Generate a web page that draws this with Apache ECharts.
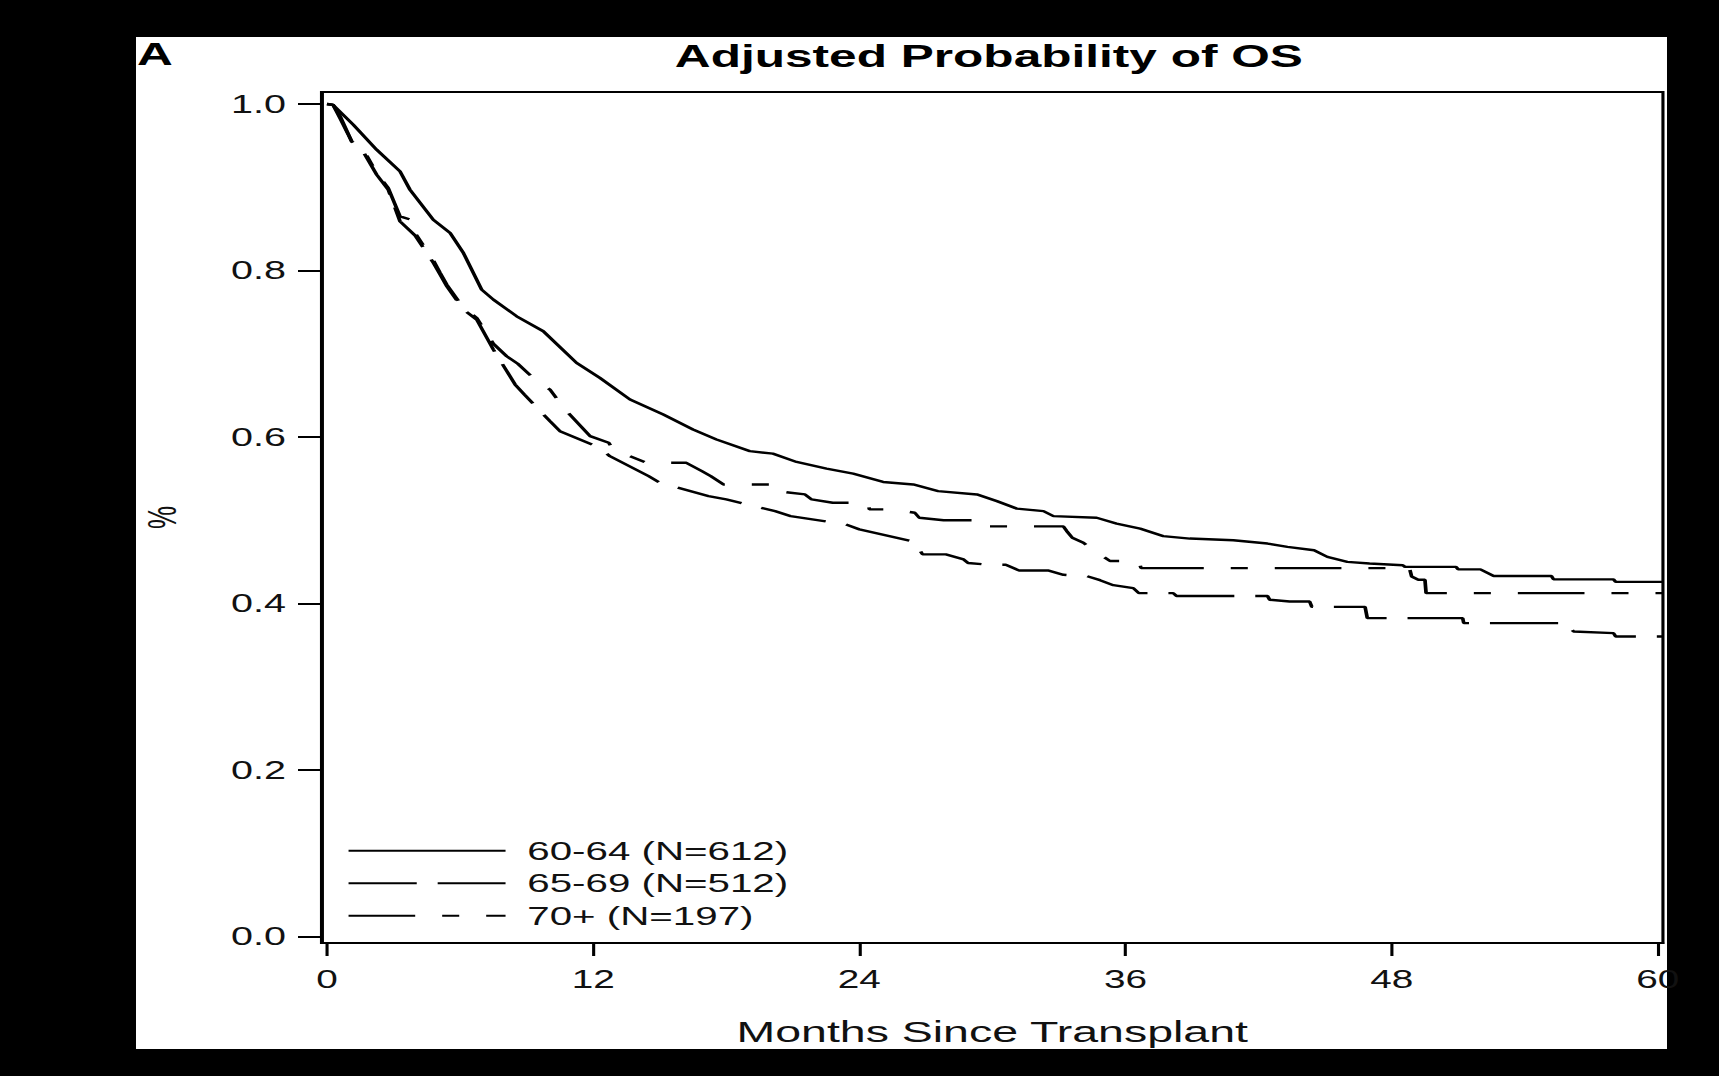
<!DOCTYPE html>
<html>
<head>
<meta charset="utf-8">
<script src="https://cdn.jsdelivr.net/npm/echarts@6/dist/echarts.min.js"></script>
<style>
  html, body { margin: 0; padding: 0; background: #000; overflow: hidden; width: 1719px; height: 1076px; }
  #c { position: absolute; left: 0; top: 0; height: 1076px; transform-origin: 0 0; }
</style>
</head>
<body>
<div id="c"></div>
<script>
// ---------------- data ----------------
const chartTitle = 'Adjusted Probability of OS';
const panelLabel = 'A';
const xAxisName = 'Months Since Transplant';
const yAxisName = '%';
const seriesNames = ['60-64 (N=612)', '65-69 (N=512)', '70+ (N=197)'];
const xTicks = [0, 12, 24, 36, 48, 60];
const yTicks = [0, 0.2, 0.4, 0.6, 0.8, 1.0];

// [months, adjusted survival probability]
const os6064 = [
  [0.0,1.000],[0.27,0.999],[1.19,0.975],[2.24,0.945],[3.29,0.919],[3.74,0.897],[4.79,0.861],
  [5.55,0.845],[6.15,0.821],[6.97,0.777],[7.5,0.765],[8.55,0.745],[9.75,0.727],[11.25,0.689],
  [12.3,0.671],[13.66,0.645],[15.16,0.627],[16.5,0.609],[17.56,0.597],[19.06,0.583],[20.1,0.580],
  [21.17,0.570],[22.52,0.562],[23.72,0.556],[25.07,0.546],[26.43,0.543],[27.55,0.535],[29.3,0.531],
  [30.2,0.523],[31.1,0.514],[32.3,0.511],[32.75,0.505],[34.7,0.503],[35.6,0.496],[36.66,0.490],
  [37.7,0.481],[38.9,0.478],[40.86,0.476],[42.4,0.472],[43.3,0.468],[44.5,0.464],[45.1,0.456],
  [46.0,0.450],[47.0,0.448],[48.5,0.446],[48.6,0.444],[50.9,0.444],[51.0,0.441],[52.0,0.441],
  [52.6,0.433],[55.2,0.433],[55.3,0.429],[58.0,0.429],[58.1,0.426],[60.23,0.426]
];
const os6569 = [
  [0.0,1.000],[0.27,0.999],[0.6,0.982],[1.11,0.955],[1.56,0.946],[2.24,0.915],[2.76,0.897],
  [3.29,0.859],[3.97,0.842],[4.8,0.809],[5.1,0.795],[5.4,0.781],[6.15,0.753],[6.75,0.741],
  [7.5,0.705],[8.48,0.663],[8.9,0.651],[10.05,0.619],[10.5,0.607],[12.3,0.587],[12.75,0.577],
  [14.5,0.553],[15.0,0.545],[17.2,0.529],[18.0,0.525],[20.2,0.511],[20.9,0.505],[23.4,0.495],
  [24.0,0.489],[26.35,0.475],[26.7,0.465],[26.85,0.459],[27.9,0.459],[28.7,0.453],[28.9,0.4487],
  [29.8,0.4465],[30.6,0.4465],[31.2,0.4397],[32.5,0.4397],[33.2,0.4345],[34.25,0.433],[34.85,0.428],
  [35.45,0.422],[36.35,0.4185],[36.6,0.4125],[38.15,0.4125],[38.3,0.409],[42.4,0.409],[42.5,0.4045],
  [43.4,0.4024],[44.3,0.4024],[44.4,0.396],[46.8,0.396],[46.9,0.3824],[51.2,0.3824],[51.25,0.3764],
  [55.9,0.3764],[56.0,0.3724],[56.2,0.3664],[58.0,0.3644],[58.1,0.3604],[60.23,0.3604]
];
const os70 = [
  [0.0,1.000],[0.27,0.999],[0.6,0.985],[1.11,0.955],[1.56,0.949],[2.24,0.917],[2.76,0.899],
  [3.29,0.865],[3.9,0.860],[3.97,0.845],[4.8,0.812],[5.1,0.797],[5.4,0.783],[6.15,0.755],
  [6.75,0.743],[7.5,0.712],[8.1,0.697],[8.6,0.688],[9.45,0.667],[10.05,0.657],[10.73,0.633],
  [11.86,0.601],[12.7,0.593],[12.9,0.585],[13.66,0.577],[14.4,0.569],[16.2,0.569],[16.9,0.559],
  [17.3,0.553],[17.87,0.543],[20.2,0.543],[20.25,0.535],[21.55,0.531],[21.85,0.525],[22.8,0.521],
  [24.4,0.521],[24.45,0.513],[25.5,0.513],[26.5,0.509],[26.7,0.503],[27.8,0.500],[29.6,0.500],
  [29.65,0.4926],[33.2,0.4926],[33.35,0.487],[33.6,0.479],[34.1,0.473],[34.5,0.465],[34.85,0.459],
  [35.3,0.451],[36.6,0.451],[36.7,0.4425],[48.8,0.4425],[48.9,0.4325],[49.2,0.4285],[49.5,0.4285],
  [49.55,0.4125],[60.23,0.4125]
];

// ---------------- layout ----------------
// The reference image is horizontally stretched; the chart is drawn narrower and stretched back.
const SX = 1.55;
const W = 1719 / SX;
const fx = v => v / SX;           // reference-pixel x -> chart x
const FONT = '"Liberation Sans", Arial, Helvetica, sans-serif';

const el = document.getElementById('c');
el.style.width = W + 'px';
el.style.transform = 'scaleX(' + SX + ')';

const mctx = document.createElement('canvas').getContext('2d');
mctx.font = 'bold 32px "Liberation Sans"';
const titleW = mctx.measureText(chartTitle).width;

const chart = echarts.init(el, null, { renderer: 'svg' });

const lineBase = { color: '#000', width: 2.4 };

chart.setOption({
  backgroundColor: '#000',
  animation: false,
  color: ['#000', '#000', '#000'],
  textStyle: { fontFamily: FONT },
  title: {
    text: chartTitle,
    left: fx(989) - titleW / 2,
    top: 40,
    padding: 0,
    textStyle: { fontSize: 32, fontWeight: 'bold', color: '#000', fontFamily: FONT }
  },
  graphic: [
    { type: 'rect', z: -100, silent: true,
      shape: { x: fx(136), y: 37, width: fx(1667 - 136), height: 1049 - 37 },
      style: { fill: '#fff' } },
    { type: 'text', z: 10, silent: true, x: fx(137), y: 54,
      style: { text: panelLabel, font: 'bold 32px ' + FONT, fill: '#000',
               textAlign: 'left', textVerticalAlign: 'middle' } }
  ],
  legend: {
    orient: 'vertical',
    left: fx(347),
    top: 837.7,
    padding: 0,
    itemGap: 6.5,
    itemWidth: fx(504 - 347),
    itemHeight: 14,
    selectedMode: false,
    data: seriesNames,
    itemStyle: { opacity: 0, borderWidth: 0 },
    lineStyle: { opacity: 1 },
    textStyle: { fontSize: 26, color: '#111', fontFamily: FONT, padding: [0, 0, 0, 9] }
  },
  grid: {
    left: fx(321.5),
    right: W - fx(1663),
    top: 92,
    bottom: 1076 - 943,
    show: true,
    borderColor: '#000',
    borderWidth: 2,
    backgroundColor: 'transparent',
    containLabel: false
  },
  xAxis: {
    type: 'value',
    min: -0.25,
    max: 60.23,
    name: xAxisName,
    nameLocation: 'middle',
    nameGap: 73.6,
    nameTextStyle: { fontSize: 30, color: '#111', fontFamily: FONT },
    axisLine: { show: true, onZero: false, lineStyle: { color: '#000', width: 2 } },
    axisTick: { show: true, customValues: xTicks, length: 13, lineStyle: { color: '#000', width: 2 } },
    axisLabel: { show: true, customValues: xTicks, margin: 23.5, fontSize: 25, color: '#111', fontFamily: FONT },
    splitLine: { show: false }
  },
  yAxis: {
    type: 'value',
    min: -0.0078,
    max: 1.0144,
    name: yAxisName,
    nameLocation: 'middle',
    nameGap: 90,
    nameTextStyle: { fontSize: 26, color: '#111', fontFamily: FONT },
    axisLine: { show: true, onZero: false, lineStyle: { color: '#000', width: 2 } },
    axisTick: { show: true, customValues: yTicks, length: fx(23.5), lineStyle: { color: '#000', width: 2 } },
    axisLabel: { show: true, customValues: yTicks, margin: fx(35.5), fontSize: 25.5, color: '#111',
                 fontFamily: FONT, formatter: v => Number(v).toFixed(1) },
    splitLine: { show: false }
  },
  series: [
    { name: seriesNames[0], type: 'line', data: os6064, symbol: 'none', showSymbol: false,
      itemStyle: { color: '#000' },
      lineStyle: Object.assign({}, lineBase, { type: 'solid' }) },
    { name: seriesNames[1], type: 'line', data: os6569, symbol: 'none', showSymbol: false,
      itemStyle: { color: '#000' },
      lineStyle: Object.assign({}, lineBase, { type: [44, 13.5] }) },
    { name: seriesNames[2], type: 'line', data: os70, symbol: 'none', showSymbol: false,
      itemStyle: { color: '#000' },
      lineStyle: Object.assign({}, lineBase, { type: [43, 17.4, 11, 17.4] }) }
  ]
});
</script>
</body>
</html>
